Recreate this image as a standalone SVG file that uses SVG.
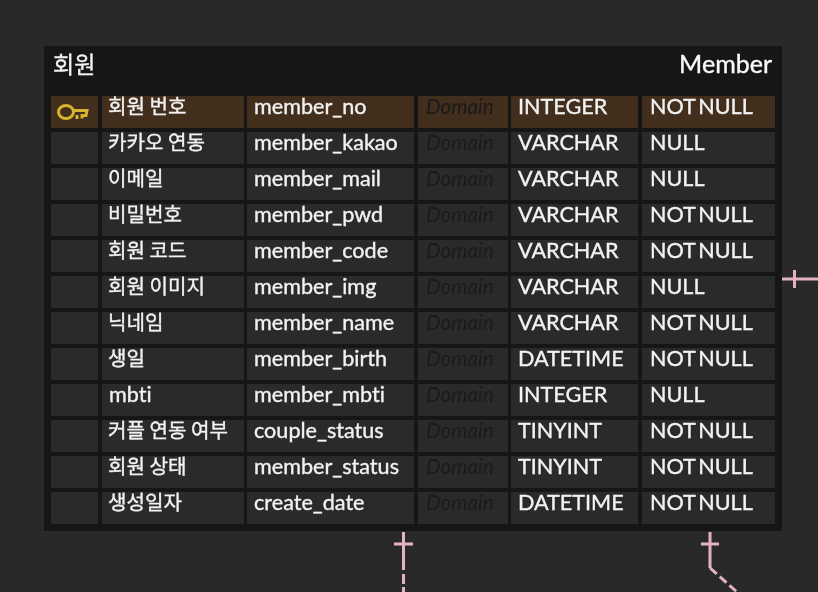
<svg xmlns="http://www.w3.org/2000/svg" width="818" height="592" viewBox="0 0 818 592">
<defs>
<filter id="soft" x="-5%" y="-5%" width="110%" height="110%"><feGaussianBlur stdDeviation="0.7"/></filter>
<g id="c">
<rect x="51" width="47" height="32"/><rect x="102" width="142" height="32"/><rect x="247" width="167" height="32"/><rect x="418" width="90" height="32"/><rect x="511" width="127" height="32"/><rect x="642" width="133" height="32"/>
</g>
</defs>
<style>
text{font-variant-ligatures:none}
.t{font-family:"Lato","Noto Sans CJK KR",sans-serif;font-size:21.6px;fill:#f2f2f2;stroke:#f2f2f2;stroke-width:.35px;word-spacing:-2.5px}
.k{font-family:"Noto Sans CJK KR","Lato",sans-serif;font-size:20.1px;fill:#f2f2f2;stroke:#f2f2f2;stroke-width:.35px}
.d{font-family:"Lato",sans-serif;font-size:20.6px;font-style:italic;fill:#1a1a1a}
.h{font-family:"Lato","Noto Sans CJK KR",sans-serif;font-size:25px;fill:#fafafa;stroke:#fafafa;stroke-width:.35px}
.rel{fill:none;stroke:#e3b4c0;stroke-width:3}
.row{fill:#2b2b2b}.pk{fill:#432d1b}
</style>
<rect width="818" height="592" fill="#292929"/>
<g filter="url(#soft)">
<g id="connectors">
<path class="rel" d="M782 279H818M794.500 270V288"/>
<path class="rel" d="M403.500 532V570M394 544H413"/>
<path class="rel" stroke-dasharray="10 3" d="M403.500 574V592"/>
<path class="rel" d="M710 532V568M701 544H719"/>
<path class="rel" stroke-dasharray="9 4" d="M710 568L737 592"/>
</g>
<g id="member">
<rect x="44" y="46" width="738" height="485" fill="#171717"/>
<text class="k" x="53" y="73" style="font-size:23px">회원</text>
<text class="h" x="772" y="73" text-anchor="end">Member</text>
<g id="r1"><use href="#c" y="96" class="pk"/><text class="k" x="108" y="114">회원 번호</text><text class="t" x="254" y="114.300">member_no</text><text class="d" x="426" y="114">Domain</text><text class="t" x="518" y="114">INTEGER</text><text class="t" x="650" y="114">NOT NULL</text>
<g fill="none" stroke="#d8b52f" stroke-width="3"><ellipse cx="66" cy="112" rx="7.500" ry="6.500"/><path d="M73.500 110.500H87L86 115.500H82V118.500M77 115V119"/></g></g>
<g id="r2"><use href="#c" y="132" class="row"/><text class="k" x="108" y="150">카카오 연동</text><text class="t" x="254" y="150.300">member_kakao</text><text class="d" x="426" y="150">Domain</text><text class="t" x="518" y="150">VARCHAR</text><text class="t" x="650" y="150">NULL</text></g>
<g id="r3"><use href="#c" y="168" class="row"/><text class="k" x="108" y="186">이메일</text><text class="t" x="254" y="186.300">member_mail</text><text class="d" x="426" y="186">Domain</text><text class="t" x="518" y="186">VARCHAR</text><text class="t" x="650" y="186">NULL</text></g>
<g id="r4"><use href="#c" y="204" class="row"/><text class="k" x="108" y="222">비밀번호</text><text class="t" x="254" y="222.300">member_pwd</text><text class="d" x="426" y="222">Domain</text><text class="t" x="518" y="222">VARCHAR</text><text class="t" x="650" y="222">NOT NULL</text></g>
<g id="r5"><use href="#c" y="240" class="row"/><text class="k" x="108" y="258">회원 코드</text><text class="t" x="254" y="258.300">member_code</text><text class="d" x="426" y="258">Domain</text><text class="t" x="518" y="258">VARCHAR</text><text class="t" x="650" y="258">NOT NULL</text></g>
<g id="r6"><use href="#c" y="276" class="row"/><text class="k" x="108" y="294">회원 이미지</text><text class="t" x="254" y="294.300">member_img</text><text class="d" x="426" y="294">Domain</text><text class="t" x="518" y="294">VARCHAR</text><text class="t" x="650" y="294">NULL</text></g>
<g id="r7"><use href="#c" y="312" class="row"/><text class="k" x="108" y="330">닉네임</text><text class="t" x="254" y="330.300">member_name</text><text class="d" x="426" y="330">Domain</text><text class="t" x="518" y="330">VARCHAR</text><text class="t" x="650" y="330">NOT NULL</text></g>
<g id="r8"><use href="#c" y="348" class="row"/><text class="k" x="108" y="366">생일</text><text class="t" x="254" y="366.300">member_birth</text><text class="d" x="426" y="366">Domain</text><text class="t" x="518" y="366">DATETIME</text><text class="t" x="650" y="366">NOT NULL</text></g>
<g id="r9"><use href="#c" y="384" class="row"/><text class="t" x="109" y="402">mbti</text><text class="t" x="254" y="402.300">member_mbti</text><text class="d" x="426" y="402">Domain</text><text class="t" x="518" y="402">INTEGER</text><text class="t" x="650" y="402">NULL</text></g>
<g id="r10"><use href="#c" y="420" class="row"/><text class="k" x="108" y="438">커플 연동 여부</text><text class="t" x="254" y="438.300">couple_status</text><text class="d" x="426" y="438">Domain</text><text class="t" x="518" y="438">TINYINT</text><text class="t" x="650" y="438">NOT NULL</text></g>
<g id="r11"><use href="#c" y="456" class="row"/><text class="k" x="108" y="474">회원 상태</text><text class="t" x="254" y="474.300">member_status</text><text class="d" x="426" y="474">Domain</text><text class="t" x="518" y="474">TINYINT</text><text class="t" x="650" y="474">NOT NULL</text></g>
<g id="r12"><use href="#c" y="492" class="row"/><text class="k" x="108" y="510">생성일자</text><text class="t" x="254" y="510.300">create_date</text><text class="d" x="426" y="510">Domain</text><text class="t" x="518" y="510">DATETIME</text><text class="t" x="650" y="510">NOT NULL</text></g>
</g>
</g>
</svg>
